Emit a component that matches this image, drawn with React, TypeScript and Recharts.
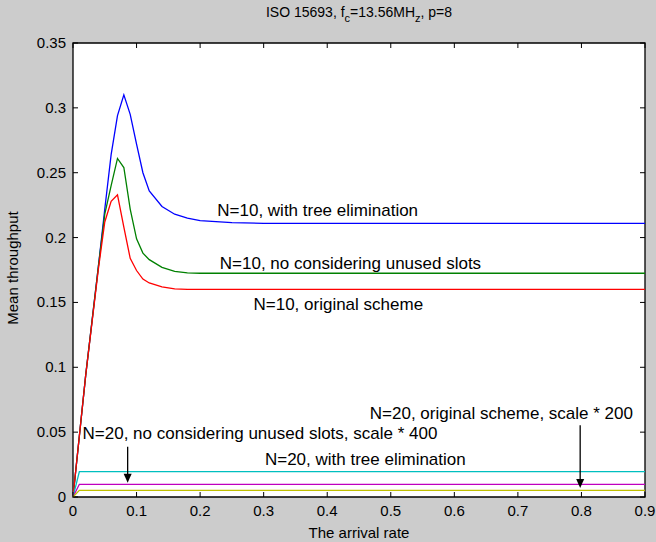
import React from "react";
import {
  LineChart,
  Line,
  XAxis,
  YAxis,
  ReferenceLine,
  ReferenceDot,
  ReferenceArea,
} from "recharts";

// arrival rate samples
const rates = [
  0, 0.01, 0.02, 0.03, 0.04, 0.05, 0.06, 0.07, 0.08, 0.09, 0.1, 0.11, 0.12,
  0.14, 0.16, 0.18, 0.2, 0.25, 0.3, 0.4, 0.5, 0.6, 0.7, 0.8, 0.9,
];

// N=10
const treeElim10 = [
  0, 0.047, 0.094, 0.136, 0.178, 0.222, 0.264, 0.294, 0.31, 0.295, 0.272,
  0.25, 0.236, 0.224, 0.218, 0.215, 0.213, 0.2115, 0.211, 0.211, 0.211,
  0.211, 0.211, 0.211, 0.211,
];
const noUnused10 = [
  0, 0.047, 0.094, 0.136, 0.178, 0.218, 0.24, 0.261, 0.254, 0.222, 0.199,
  0.188, 0.183, 0.177, 0.174, 0.1728, 0.1725, 0.1725, 0.1725, 0.1725, 0.1725,
  0.1725, 0.1725, 0.1725, 0.1725,
];
const original10 = [
  0, 0.047, 0.094, 0.135, 0.176, 0.212, 0.228, 0.233, 0.208, 0.184, 0.1746,
  0.168, 0.165, 0.162, 0.1605, 0.16, 0.16, 0.16, 0.16, 0.16, 0.16, 0.16, 0.16,
  0.16, 0.16,
];

// N=20 (scaled)
const treeElim20 = [
  0, 0.0195, 0.0195, 0.0195, 0.0195, 0.0195, 0.0195, 0.0195, 0.0195, 0.0195,
  0.0195, 0.0195, 0.0195, 0.0195, 0.0195, 0.0195, 0.0195, 0.0195, 0.0195,
  0.0195, 0.0195, 0.0195, 0.0195, 0.0195, 0.0195,
];
const original20 = [
  0, 0.0098, 0.0098, 0.0098, 0.0098, 0.0098, 0.0098, 0.0098, 0.0098, 0.0098,
  0.0098, 0.0098, 0.0098, 0.0098, 0.0098, 0.0098, 0.0098, 0.0098, 0.0098,
  0.0098, 0.0098, 0.0098, 0.0098, 0.0098, 0.0098,
];
const noUnused20 = [
  0, 0.0051, 0.0051, 0.0051, 0.0051, 0.0051, 0.0051, 0.0051, 0.0051, 0.0051,
  0.0051, 0.0051, 0.0051, 0.0051, 0.0051, 0.0051, 0.0051, 0.0051, 0.0051,
  0.0051, 0.0051, 0.0051, 0.0051, 0.0051, 0.0051,
];

const xTicks = [0, 0.1, 0.2, 0.3, 0.4, 0.5, 0.6, 0.7, 0.8, 0.9];
const yTicks = [0, 0.05, 0.1, 0.15, 0.2, 0.25, 0.3, 0.35];

// text annotations: [x, y(baseline), text]
const notes: [number, number, string][] = [
  [0.227, 0.2165, "N=10, with tree elimination"],
  [0.231, 0.1755, "N=10, no considering unused slots"],
  [0.284, 0.1438, "N=10, original scheme"],
  [0.467, 0.0605, "N=20, original scheme, scale * 200"],
  [0.015, 0.0445, "N=20, no considering unused slots, scale * 400"],
  [0.302, 0.0245, "N=20, with tree elimination"],
];

// arrows: x, from y, to y
const arrows: [number, number, number][] = [
  [0.086, 0.0387, 0.011],
  [0.798, 0.0554, 0.0069],
];

const data = rates.map((r, i) => ({
  rate: r,
  t10: treeElim10[i],
  n10: noUnused10[i],
  o10: original10[i],
  t20: treeElim20[i],
  o20: original20[i],
  n20: noUnused20[i],
}));

const FONT = "'Liberation Sans', Arial, sans-serif";
const TOP = 43;
const BOTTOM = 497;
const LEFT = 73;
const RIGHT = 645;
const TICK = 5;

// bottom tick also draws the matching inward tick on the top edge
const BottomTick = ({ x, y, payload }: any) => (
  <g>
    <line x1={x} x2={x} y1={y} y2={y - TICK} stroke="#000" />
    <line x1={x} x2={x} y1={TOP} y2={TOP + TICK} stroke="#000" />
    <text x={x} y={y + 19} textAnchor="middle" fontSize={15} fontFamily={FONT} fill="#000">
      {payload.value}
    </text>
  </g>
);

const LeftTick = ({ x, y, payload }: any) => (
  <g>
    <line x1={x} x2={x + TICK} y1={y} y2={y} stroke="#000" />
    <line x1={RIGHT} x2={RIGHT - TICK} y1={y} y2={y} stroke="#000" />
    <text x={x - 7} y={y + 5} textAnchor="end" fontSize={15} fontFamily={FONT} fill="#000">
      {payload.value}
    </text>
  </g>
);

const noteShape = (text: string) => (p: any) => (
  <text x={p.cx} y={p.cy} fontSize={17} fontFamily={FONT} fill="#000">
    {text}
  </text>
);

const arrowHead = (p: any) => (
  <path d={`M${p.cx},${p.cy} L${p.cx - 4},${p.cy - 9} L${p.cx + 4},${p.cy - 9} Z`} fill="#000" />
);

const series = [
  { key: "t10", color: "#0000FF" },
  { key: "n10", color: "#008000" },
  { key: "o10", color: "#FF0000" },
  { key: "t20", color: "#00BFBF" },
  { key: "o20", color: "#BF00BF" },
  { key: "n20", color: "#BFBF00" },
];

export default function App() {
  return (
    <div
      style={{
        position: "absolute",
        left: 0,
        top: 0,
        width: 656,
        height: 542,
        background: "#cccccc",
        fontFamily: FONT,
        color: "#000",
      }}
    >
      <LineChart
        width={656}
        height={542}
        data={data}
        margin={{ top: TOP, right: 656 - RIGHT, bottom: 542 - BOTTOM - 30, left: LEFT - 60 }}
      >
        <XAxis
          dataKey="rate"
          type="number"
          domain={[0, 0.9]}
          ticks={xTicks}
          height={30}
          tickSize={0}
          tickMargin={0}
          tickLine={false}
          axisLine={false}
          tick={<BottomTick />}
          interval={0}
        />
        <YAxis
          type="number"
          domain={[0, 0.35]}
          ticks={yTicks}
          width={60}
          tickSize={0}
          tickMargin={0}
          tickLine={false}
          axisLine={false}
          tick={<LeftTick />}
          interval={0}
        />
        <ReferenceArea
          x1={0}
          x2={0.9}
          y1={0}
          y2={0.35}
          fill="#ffffff"
          fillOpacity={1}
          stroke="#000"
          strokeWidth={1.3}
        />
        {series.map((s) => (
          <Line
            key={s.key}
            type="linear"
            dataKey={s.key}
            stroke={s.color}
            strokeWidth={1.3}
            dot={false}
            isAnimationActive={false}
          />
        ))}
        {arrows.map(([x, y1, y2], i) => (
          <ReferenceLine
            key={`al${i}`}
            segment={[
              { x, y: y1 },
              { x, y: y2 + 0.005 },
            ]}
            stroke="#000"
            strokeWidth={1.3}
          />
        ))}
        {arrows.map(([x, , y2], i) => (
          <ReferenceDot key={`ah${i}`} x={x} y={y2} r={0} shape={arrowHead} />
        ))}
        {notes.map(([x, y, t], i) => (
          <ReferenceDot key={`n${i}`} x={x} y={y} r={0} shape={noteShape(t)} />
        ))}
      </LineChart>
      <div
        style={{
          position: "absolute",
          left: LEFT,
          width: RIGHT - LEFT,
          top: 4,
          textAlign: "center",
          fontSize: 14,
          lineHeight: "16px",
        }}
      >
        ISO 15693, f<sub style={{ fontSize: 11, verticalAlign: -5 }}>c</sub>=13.56MH
        <sub style={{ fontSize: 11, verticalAlign: -5 }}>z</sub>, p=8
      </div>
      <div
        style={{
          position: "absolute",
          left: LEFT,
          width: RIGHT - LEFT,
          top: 525,
          textAlign: "center",
          fontSize: 15,
          lineHeight: "16px",
        }}
      >
        The arrival rate
      </div>
      <div
        style={{
          position: "absolute",
          left: 13 - 100,
          top: 268 - 8,
          width: 200,
          textAlign: "center",
          fontSize: 15,
          lineHeight: "16px",
          transform: "rotate(-90deg)",
        }}
      >
        Mean throughput
      </div>
    </div>
  );
}
